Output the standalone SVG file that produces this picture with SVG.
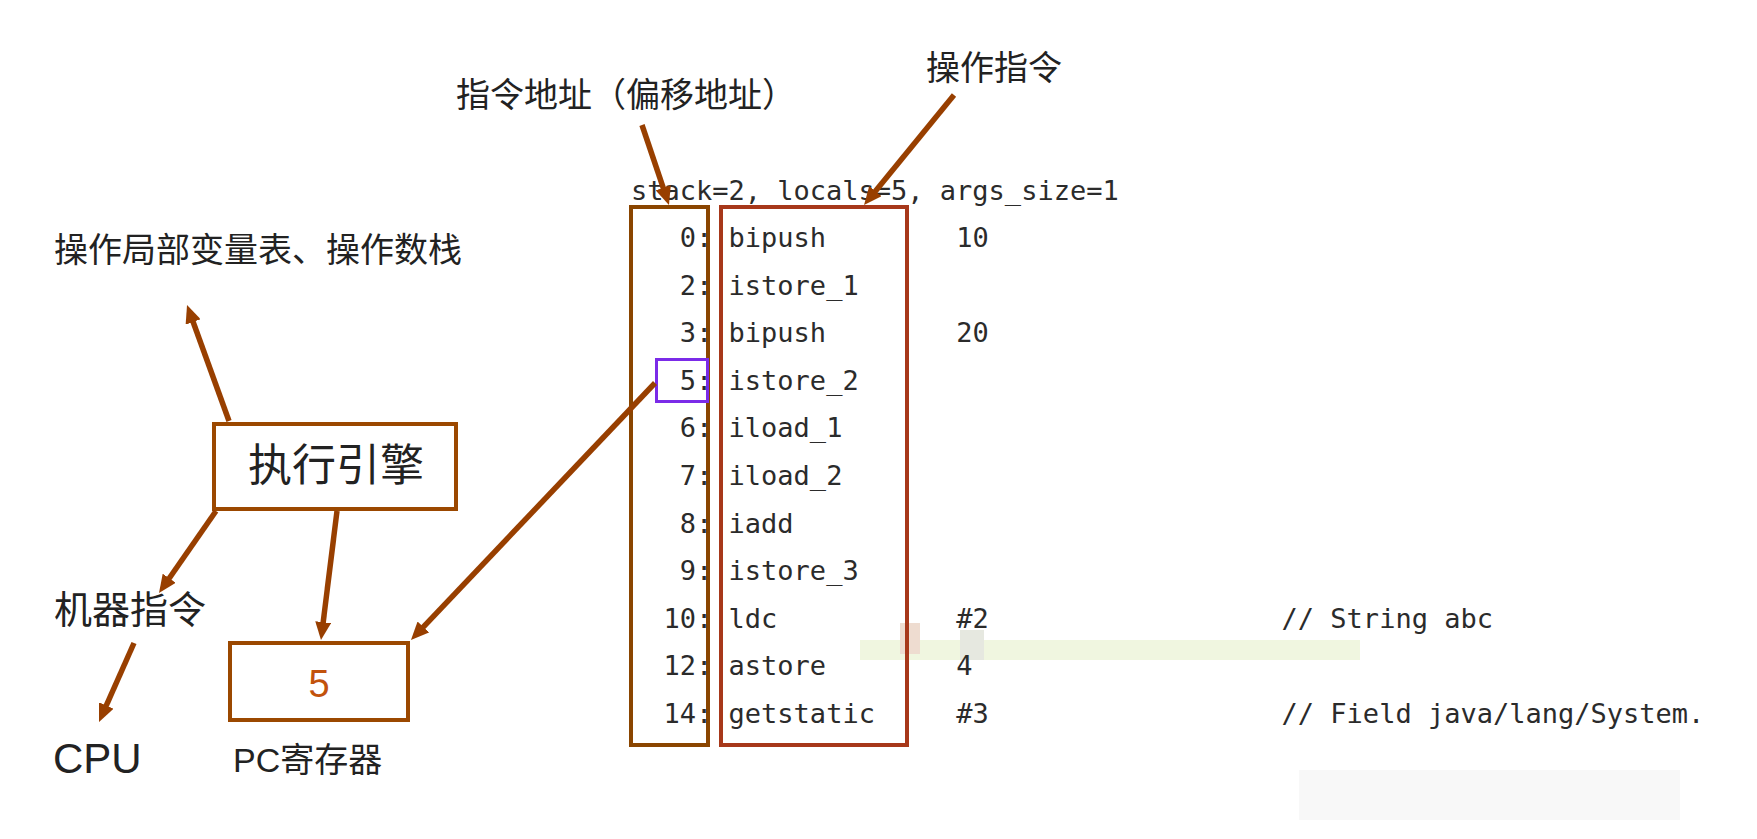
<svg xmlns="http://www.w3.org/2000/svg" width="1757" height="839" viewBox="0 0 1757 839">
  <style>
    .cjk { font-family: "Noto Sans CJK SC", "Noto Sans", sans-serif; fill: #222; }
    .lat { font-family: "Liberation Sans", "Noto Sans CJK SC", sans-serif; fill: #222; }
    .code { font-family: "DejaVu Sans Mono", "Liberation Mono", monospace; font-size: 27px; fill: #2b2b2b; }
    .addr { text-anchor: end; }
    .box { fill: #fff; stroke: #9b4800; stroke-width: 4; }
    .arrow { stroke: #983f00; stroke-width: 5.5; fill: none; marker-end: url(#ah); }
  </style>
  <defs>
    <marker id="ah" markerUnits="userSpaceOnUse" markerWidth="18" markerHeight="16" viewBox="0 0 18 16" refX="4" refY="8" orient="auto">
      <path d="M0,0 L18,8 L0,16 z" fill="#983f00"/>
    </marker>
  </defs>
  <rect width="1757" height="839" fill="#fff"/>

  <g id="artifacts">
    <rect x="860" y="640" width="500" height="20" fill="#f0f6e0"/>
    <rect x="900" y="623" width="20" height="31" fill="#eedcd0"/>
    <rect x="960" y="630" width="24" height="30" fill="#e6e8e0"/>
    <rect x="1299" y="770" width="381" height="50" fill="#f8f8f8"/>
  </g>

  <g id="label-local-vars">
    <text class="cjk" x="54" y="262" font-size="34">操作局部变量表、操作数栈</text>
  </g>
  <g id="label-addr">
    <text class="cjk" x="456" y="107" font-size="34">指令地址（偏移地址）</text>
  </g>
  <g id="label-op">
    <text class="cjk" x="926" y="80" font-size="34">操作指令</text>
  </g>

  <g id="engine">
    <rect class="box" x="214" y="424" width="242" height="85"/>
    <text class="cjk" x="336" y="481" font-size="44" text-anchor="middle">执行引擎</text>
  </g>

  <g id="machine-instr">
    <text class="cjk" x="54" y="623" font-size="38">机器指令</text>
  </g>

  <g id="cpu">
    <text class="lat" x="53" y="773" font-size="42">CPU</text>
  </g>

  <g id="pc-register">
    <rect class="box" x="230" y="643" width="178" height="77"/>
    <text x="319" y="697" font-family="Liberation Sans, sans-serif" font-size="38" fill="#c2520c" text-anchor="middle">5</text>
    <text class="lat" x="233" y="772" font-size="34">PC寄存器</text>
  </g>

  <g id="bytecode">
    <text class="code" x="631" y="200">stack=2, locals=5, args_size=1</text>
    <rect id="addr-col" x="631" y="207" width="77" height="538" fill="none" stroke="#8a4500" stroke-width="4"/>
    <rect id="op-col" x="721" y="207" width="186" height="538" fill="none" stroke="#a7381a" stroke-width="4"/>
    <rect id="current" x="656.5" y="359.5" width="51" height="42" fill="none" stroke="#7b2be8" stroke-width="3"/>

    <text class="code addr" x="712.3" y="247">0:</text>
    <text class="code" x="728.6" y="247">bipush</text>
    <text class="code" x="956.3" y="247">10</text>

    <text class="code addr" x="712.3" y="294.6">2:</text>
    <text class="code" x="728.6" y="294.6">istore_1</text>

    <text class="code addr" x="712.3" y="342.2">3:</text>
    <text class="code" x="728.6" y="342.2">bipush</text>
    <text class="code" x="956.3" y="342.2">20</text>

    <text class="code addr" x="712.3" y="389.8">5:</text>
    <text class="code" x="728.6" y="389.8">istore_2</text>

    <text class="code addr" x="712.3" y="437.4">6:</text>
    <text class="code" x="728.6" y="437.4">iload_1</text>

    <text class="code addr" x="712.3" y="485">7:</text>
    <text class="code" x="728.6" y="485">iload_2</text>

    <text class="code addr" x="712.3" y="532.6">8:</text>
    <text class="code" x="728.6" y="532.6">iadd</text>

    <text class="code addr" x="712.3" y="580.2">9:</text>
    <text class="code" x="728.6" y="580.2">istore_3</text>

    <text class="code addr" x="712.3" y="627.8">10:</text>
    <text class="code" x="728.6" y="627.8">ldc</text>
    <text class="code" x="956.3" y="627.8">#2</text>
    <text class="code" x="1281.6" y="627.8">// String abc</text>

    <text class="code addr" x="712.3" y="675.4">12:</text>
    <text class="code" x="728.6" y="675.4">astore</text>
    <text class="code" x="956.3" y="675.4">4</text>

    <text class="code addr" x="712.3" y="723">14:</text>
    <text class="code" x="728.6" y="723">getstatic</text>
    <text class="code" x="956.3" y="723">#3</text>
    <text class="code" x="1281.6" y="723">// Field java/lang/System.</text>
  </g>

  <g id="connectors">
    <line class="arrow" x1="229" y1="421" x2="191.8" y2="318.2"/>
    <line class="arrow" x1="216" y1="511" x2="167" y2="581.5"/>
    <line class="arrow" x1="337" y1="511" x2="322.7" y2="626.1"/>
    <line class="arrow" x1="655" y1="383" x2="420.6" y2="629.9"/>
    <line class="arrow" x1="134" y1="643" x2="104.7" y2="709.2"/>
    <line class="arrow" x1="642" y1="125" x2="664.5" y2="191.7"/>
    <line class="arrow" x1="954" y1="95" x2="872.9" y2="194.2"/>
  </g>
</svg>
